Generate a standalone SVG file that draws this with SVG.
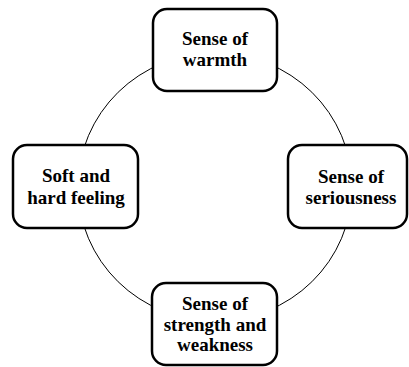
<svg xmlns="http://www.w3.org/2000/svg" width="409" height="367" viewBox="0 0 409 367">
<style>
.box{fill:#fff;stroke:#000;stroke-width:2.5}
.t{font-family:"Liberation Serif","Times New Roman",serif;font-weight:bold;font-size:19px;text-anchor:middle;fill:#000}
.c{fill:none;stroke:#000;stroke-width:1}
</style>
<rect width="409" height="367" fill="#fff"/>
<g id="connectors">
<ellipse class="c" cx="215" cy="187" rx="137" ry="134"/>
</g>
<g id="warmth">
<rect class="box" x="153" y="9" width="124" height="82" rx="14"/>
<text class="t" x="215" y="45">Sense of</text>
<text class="t" x="215" y="66">warmth</text>
</g>
<g id="soft-hard">
<rect class="box" x="13" y="145" width="125" height="83" rx="14"/>
<text class="t" x="76" y="182">Soft and</text>
<text class="t" x="76" y="204">hard feeling</text>
</g>
<g id="seriousness">
<rect class="box" x="288" y="145" width="119" height="83" rx="14"/>
<text class="t" x="351" y="183">Sense of</text>
<text class="t" x="351" y="204">seriousness</text>
</g>
<g id="strength">
<rect class="box" x="152" y="283" width="125" height="82" rx="14"/>
<text class="t" x="215" y="310">Sense of</text>
<text class="t" x="215" y="331">strength and</text>
<text class="t" x="215" y="351">weakness</text>
</g>
</svg>
